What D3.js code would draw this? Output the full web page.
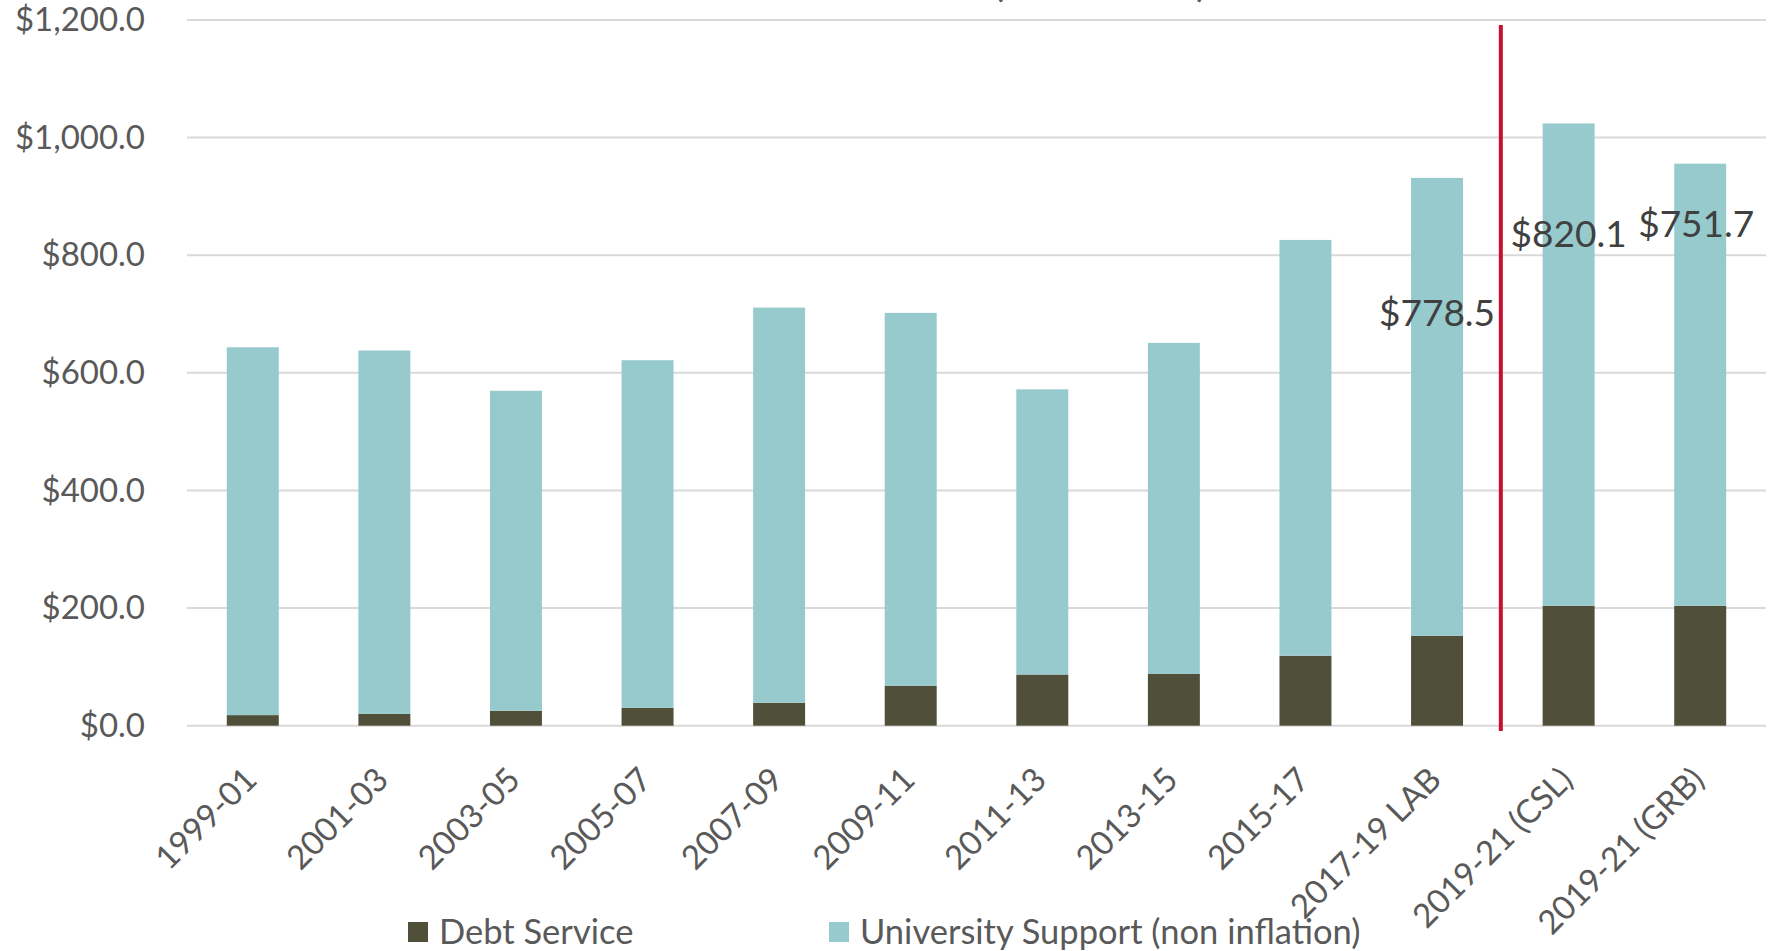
<!DOCTYPE html>
<html>
<head>
<meta charset="utf-8">
<script src="https://cdn.jsdelivr.net/npm/d3@7"></script>
<style>
  html, body { margin: 0; padding: 0; background: #ffffff; }
  svg { display: block; font-family: Lato, "Open Sans", sans-serif; }
</style>
</head>
<body>
<svg id="chart" width="1774" height="951"></svg>
<script>
// ---- data ----
const categories = ["1999-01", "2001-03", "2003-05", "2005-07", "2007-09", "2009-11",
  "2011-13", "2013-15", "2015-17", "2017-19 LAB", "2019-21 (CSL)", "2019-21 (GRB)"];
const debtService = [18, 20, 25.5, 30.5, 39, 68, 87, 88, 119, 153, 204, 204];
const universitySupport = [625.5, 618, 544, 591, 672, 634, 485, 563, 707, 778.5, 820.1, 751.7];
const seriesNames = ["Debt Service", "University Support (non inflation)"];
const yTicks = [0, 200, 400, 600, 800, 1000, 1200];
const labelledCategories = ["2017-19 LAB", "2019-21 (CSL)", "2019-21 (GRB)"];
const titleText = "(in millions)";

// ---- layout ----
const W = 1774, H = 951;
const svg = d3.select("#chart");
const colors = { debt: "#50503A", univ: "#96CACD", grid: "#D9D9D9", tick: "#595959", label: "#404040", red: "#C8102E" };

const x = d3.scaleBand().domain(categories).range([187, 1766]).paddingInner(0.605).paddingOuter(0.3025);
const y = d3.scaleLinear().domain([0, 1200]).range([725.7, 20]);

// title (mostly cut off at top in the reference)
svg.append("text").attr("x", 1100).attr("y", -4).attr("text-anchor", "middle")
  .attr("font-size", 44).attr("fill", colors.tick).text(titleText);

// gridlines + y labels
const yAxis = d3.axisLeft(y).tickValues(yTicks).tickFormat(d3.format("$,.1f")).tickSize(0).tickPadding(0);
const gy = svg.append("g").attr("transform", "translate(145,0)").call(yAxis);
gy.select(".domain").remove();
gy.selectAll("text").attr("font-size", 33).attr("fill", colors.tick).attr("font-family", "Lato, sans-serif");

svg.append("g").selectAll("line").data(yTicks).join("line")
  .attr("x1", 187).attr("x2", 1766)
  .attr("y1", d => y(d)).attr("y2", d => y(d))
  .attr("stroke", colors.grid).attr("stroke-width", 2);

// stacked bars
const rows = categories.map((c, i) => ({ cat: c, debt: debtService[i], univ: universitySupport[i] }));
const stack = d3.stack().keys(["debt", "univ"])(rows);
const fills = [colors.debt, colors.univ];
svg.append("g").selectAll("g").data(stack).join("g")
  .attr("fill", (d, i) => fills[i])
  .selectAll("rect").data(d => d).join("rect")
  .attr("x", d => x(d.data.cat))
  .attr("width", x.bandwidth())
  .attr("y", d => y(d[1]))
  .attr("height", d => y(d[0]) - y(d[1]));

// x axis labels (rotated)
const xAxis = d3.axisBottom(x).tickSize(0).tickPadding(0);
const gx = svg.append("g").attr("transform", "translate(0,725.7)").call(xAxis);
gx.select(".domain").remove();
gx.selectAll("text")
  .attr("font-size", 33).attr("fill", colors.tick).attr("font-family", "Lato, sans-serif")
  .attr("text-anchor", "end")
  .attr("dy", null).attr("y", 0)
  .attr("transform", "translate(6,56) rotate(-45)");

// red divider between 2017-19 and 2019-21
const step = x.step();
const divX = x("2017-19 LAB") + x.bandwidth() + (step - x.bandwidth()) / 2 - 2;
svg.append("line").attr("x1", divX).attr("x2", divX).attr("y1", 25).attr("y2", 731)
  .attr("stroke", colors.red).attr("stroke-width", 4);

// data labels (university support), manually placed as in the reference
const labelOffsets = { "2017-19 LAB": [0, 135], "2019-21 (CSL)": [0, 111], "2019-21 (GRB)": [-4, 60] };
const fmt = d3.format("$,.1f");
svg.append("g").selectAll("text").data(rows.filter(r => labelledCategories.includes(r.cat))).join("text")
  .attr("x", d => x(d.cat) + x.bandwidth() / 2 + labelOffsets[d.cat][0])
  .attr("y", d => y(d.debt + d.univ) + labelOffsets[d.cat][1])
  .attr("dy", "0.35em")
  .attr("text-anchor", "middle")
  .attr("font-size", 37).attr("fill", colors.label)
  .text(d => fmt(d.univ));

// legend
const legendX = [408, 829];
const lg = svg.append("g").selectAll("g").data(seriesNames).join("g")
  .attr("transform", (d, i) => `translate(${legendX[i]},922)`);
lg.append("rect").attr("width", 20).attr("height", 20).attr("fill", (d, i) => fills[i]);
lg.append("text").attr("x", 31).attr("y", 10).attr("dy", "0.35em")
  .attr("font-size", 34.5).attr("fill", colors.tick).text(d => d);
</script>
</body>
</html>
